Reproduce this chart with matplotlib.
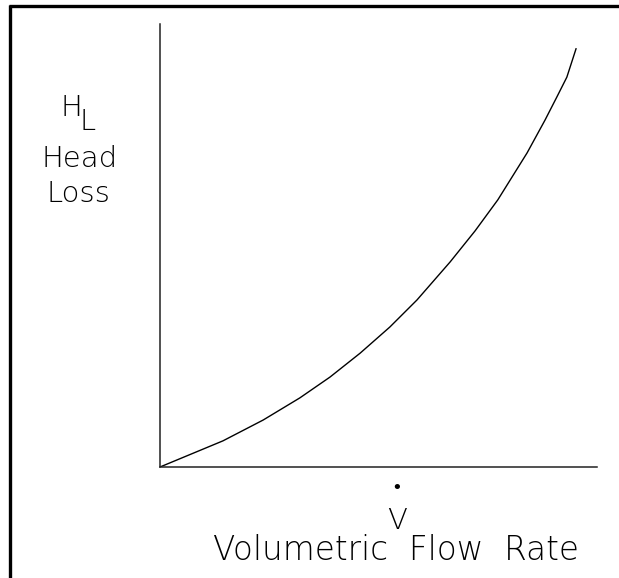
import matplotlib
matplotlib.use("Agg")
import matplotlib.pyplot as plt
from matplotlib.lines import Line2D

# 読み取った曲線の点 (軸の長さを0-10とした値)
flow_rate = [0, 1.44, 2.36, 3.20, 3.89, 4.58, 5.26, 5.88, 6.64, 7.21, 7.73, 8.40, 8.81, 9.08, 9.31, 9.52]
head_loss = [0, 0.59, 1.06, 1.56, 2.03, 2.57, 3.16, 3.77, 4.63, 5.33, 6.03, 7.09, 7.83, 8.35, 8.80, 9.44]

W, H = 619, 578
fig = plt.figure(figsize=(W / 100, H / 100), dpi=100)

def fx(px):
    return px / W

def fy(py):
    return 1 - py / H

# 外枠 (上と左だけ見えている)
fig.add_artist(Line2D([fx(9), fx(619)], [fy(6), fy(6)], color="black", lw=2.4,
                      solid_capstyle="butt"))
fig.add_artist(Line2D([fx(10), fx(10)], [fy(5), fy(578)], color="black", lw=2.4,
                      solid_capstyle="butt"))

ax = fig.add_axes([fx(160), fy(467), fx(597) - fx(160), fy(24) - fy(467)])
ax.plot(flow_rate, head_loss, color="black", lw=1.0)
ax.set_xlim(0, 10)
ax.set_ylim(0, 10)
ax.set_xticks([])
ax.set_yticks([])
for s in ["top", "right"]:
    ax.spines[s].set_visible(False)
for s in ["left", "bottom"]:
    ax.spines[s].set_linewidth(1.1)
    ax.spines[s].set_color("#222222")

font = dict(family="DejaVu Sans", fontsize=21, color="black", fontweight="light")

# 縦軸ラベル
fig.text(fx(71), fy(108), "H", ha="center", va="center", **font)
fig.text(fx(88), fy(122), "L", ha="center", va="center", **font)
fig.text(fx(80), fy(159), "Head", ha="center", va="center", **font)
fig.text(fx(78), fy(194), "Loss", ha="center", va="center", **font)

# 横軸ラベル
fig.text(fx(397), fy(521), "V", ha="center", va="center", **font)
fig.text(fx(397), fy(488), "\u2022", ha="center", va="center",
         family="DejaVu Sans", fontsize=13, color="black")
fig.text(fx(396), fy(550), "Volumetric  Flow  Rate", ha="center", va="center",
         family="DejaVu Sans", fontsize=23.5, color="black", fontweight="light")

fig.savefig("out.png", dpi=100)
